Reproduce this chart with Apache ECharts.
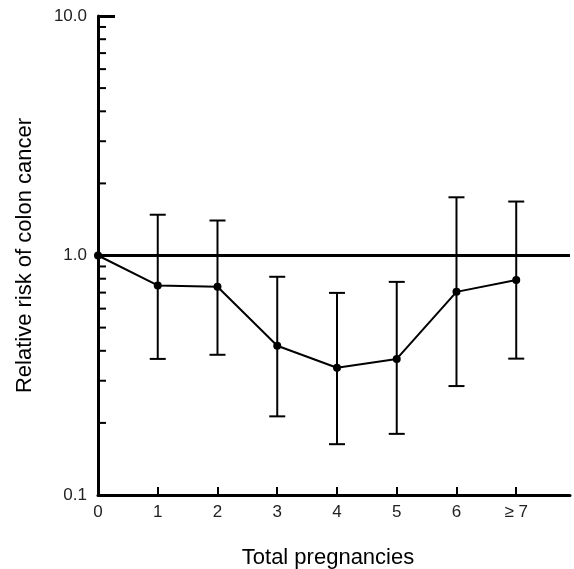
<!DOCTYPE html>
<html>
<head>
<meta charset="utf-8">
<script src="https://cdn.jsdelivr.net/npm/echarts@6/dist/echarts.min.js"></script>
<style>
  html, body { margin: 0; padding: 0; background: #fff; }
  #container { width: 574px; height: 569px; }
</style>
</head>
<body>
<div id="container"></div>
<script>
var dom = document.getElementById("container");
var myChart = echarts.init(dom);

// total pregnancies (7 = "≥7")
var pregnancies = [0, 1, 2, 3, 4, 5, 6, 7];
var relRisk = [1.0, 0.75, 0.74, 0.42, 0.34, 0.37, 0.705, 0.79];
var ciLow = [null, 0.37, 0.385, 0.213, 0.163, 0.18, 0.285, 0.371];
var ciHigh = [null, 1.48, 1.40, 0.815, 0.698, 0.776, 1.75, 1.68];
var xLabels = ["0", "1", "2", "3", "4", "5", "6", "\u2265 7"];
var minorTicks = [0.2, 0.3, 0.4, 0.5, 0.6, 0.7, 0.8, 0.9, 2, 3, 4, 5, 6, 7, 8, 9];

var font = "'Liberation Sans', Arial, sans-serif";

var lineData = pregnancies.map(function (p, i) {
  return [p, relRisk[i]];
});

var errData = [];
pregnancies.forEach(function (p, i) {
  if (ciLow[i] != null) errData.push([p, ciLow[i], ciHigh[i]]);
});

var option = {
  animation: false,
  backgroundColor: "#fff",
  grid: {
    left: 98,
    right: 4,
    top: 16,
    bottom: 74,
    outerBoundsMode: "none"
  },
  xAxis: {
    type: "value",
    min: 0,
    max: 7.9,
    name: "Total pregnancies",
    nameLocation: "middle",
    nameGap: 52,
    nameTextStyle: { fontFamily: font, fontSize: 22, color: "#000", padding: [0, 12, 0, 0] },
    axisLine: { lineStyle: { color: "#000", width: 3 } },
    axisTick: {
      show: true,
      inside: true,
      length: 8,
      customValues: [1, 2, 3, 4, 5, 6, 7],
      lineStyle: { color: "#000", width: 2 }
    },
    axisLabel: {
      customValues: [0, 1, 2, 3, 4, 5, 6, 7],
      formatter: function (v) { return xLabels[Math.round(v)]; },
      fontFamily: font,
      fontSize: 17,
      color: "#222",
      margin: 9
    },
    splitLine: { show: false }
  },
  yAxis: {
    type: "log",
    logBase: 10,
    min: 0.1,
    max: 10,
    interval: 1,
    name: "Relative risk of colon cancer",
    nameLocation: "middle",
    nameGap: 62,
    nameTextStyle: { fontFamily: font, fontSize: 22, color: "#000" },
    axisLine: { show: true, lineStyle: { color: "#000", width: 3 } },
    axisTick: {
      show: true,
      inside: true,
      length: 17,
      lineStyle: { color: "#000", width: 3 }
    },
    axisLabel: {
      formatter: function (v) { return Number(v).toFixed(1); },
      fontFamily: font,
      fontSize: 17,
      color: "#222",
      margin: 11
    },
    splitLine: { show: false }
  },
  series: [
    {
      // minor log ticks on the y axis
      type: "custom",
      silent: true,
      clip: false,
      data: minorTicks.map(function (v) { return [0, v]; }),
      renderItem: function (params, api) {
        var p = api.coord([0, api.value(1)]);
        return {
          type: "line",
          shape: { x1: p[0], y1: p[1], x2: p[0] + 8, y2: p[1] },
          style: { stroke: "#000", lineWidth: 2 }
        };
      }
    },
    {
      // error bars
      type: "custom",
      silent: true,
      clip: false,
      data: errData,
      renderItem: function (params, api) {
        var x = api.value(0);
        var lo = api.coord([x, api.value(1)]);
        var hi = api.coord([x, api.value(2)]);
        var w = 8;
        var st = { stroke: "#000", lineWidth: 2 };
        return {
          type: "group",
          children: [
            { type: "line", shape: { x1: lo[0], y1: lo[1], x2: hi[0], y2: hi[1] }, style: st },
            { type: "line", shape: { x1: lo[0] - w, y1: lo[1], x2: lo[0] + w, y2: lo[1] }, style: st },
            { type: "line", shape: { x1: hi[0] - w, y1: hi[1], x2: hi[0] + w, y2: hi[1] }, style: st }
          ]
        };
      }
    },
    {
      type: "line",
      data: lineData,
      symbol: "circle",
      symbolSize: 8,
      lineStyle: { color: "#000", width: 2 },
      itemStyle: { color: "#000" },
      markLine: {
        silent: true,
        symbol: "none",
        label: { show: false },
        lineStyle: { color: "#000", width: 3, type: "solid" },
        data: [{ yAxis: 1 }]
      }
    }
  ]
};

myChart.setOption(option);
</script>
</body>
</html>
